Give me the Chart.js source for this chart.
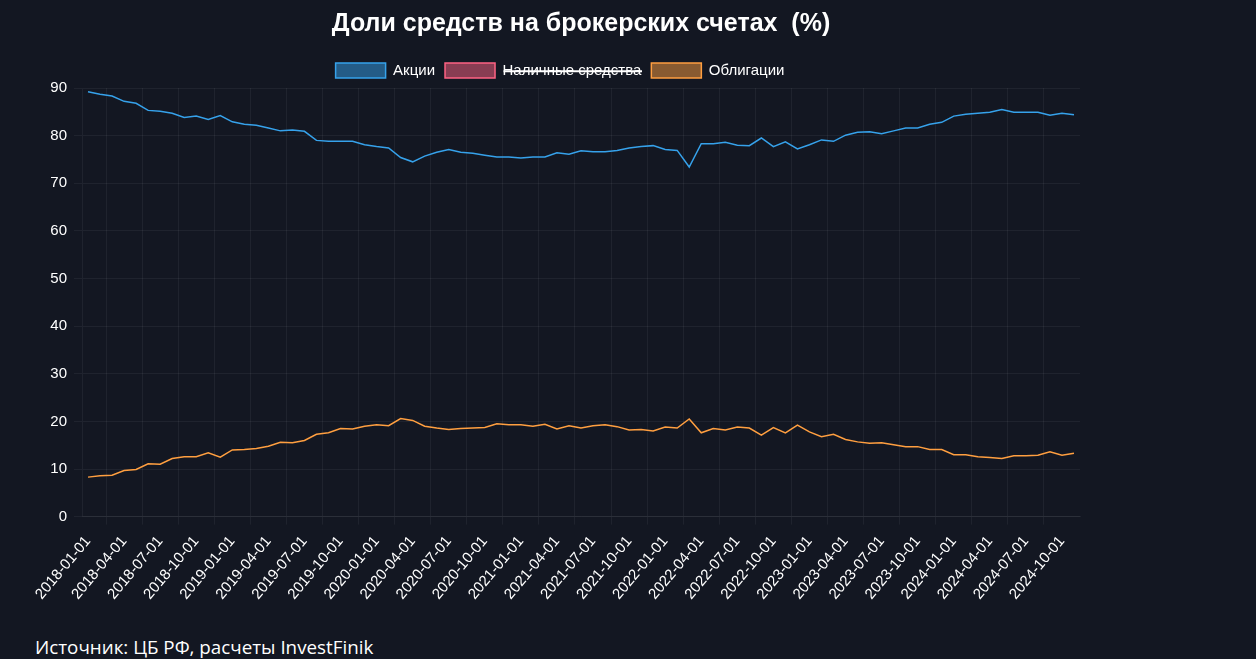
<!DOCTYPE html>
<html>
<head>
<meta charset="utf-8">
<script src="https://cdn.jsdelivr.net/npm/chart.js@4.4.1/dist/chart.umd.min.js"></script>
<style>
  html, body { margin: 0; padding: 0; background: #131722; width: 1256px; height: 659px; overflow: hidden; }
  #wrap { position: absolute; left: 0; top: 0; width: 1120px; height: 611px; }
  #footer { position: absolute; left: 35px; top: 634px; color: #ffffff; font-family: "Open Sans", "Noto Sans", sans-serif; font-size: 18.8px; white-space: nowrap; }
</style>
</head>
<body>
<div id="wrap"><canvas id="c"></canvas></div>
<div id="footer">Источник: ЦБ РФ, расчеты InvestFinik</div>
<script>
const categories = [
  "2018-01-01","2018-02-01","2018-03-01","2018-04-01","2018-05-01","2018-06-01","2018-07-01","2018-08-01","2018-09-01","2018-10-01","2018-11-01","2018-12-01",
  "2019-01-01","2019-02-01","2019-03-01","2019-04-01","2019-05-01","2019-06-01","2019-07-01","2019-08-01","2019-09-01","2019-10-01","2019-11-01","2019-12-01",
  "2020-01-01","2020-02-01","2020-03-01","2020-04-01","2020-05-01","2020-06-01","2020-07-01","2020-08-01","2020-09-01","2020-10-01","2020-11-01","2020-12-01",
  "2021-01-01","2021-02-01","2021-03-01","2021-04-01","2021-05-01","2021-06-01","2021-07-01","2021-08-01","2021-09-01","2021-10-01","2021-11-01","2021-12-01",
  "2022-01-01","2022-02-01","2022-03-01","2022-04-01","2022-05-01","2022-06-01","2022-07-01","2022-08-01","2022-09-01","2022-10-01","2022-11-01","2022-12-01",
  "2023-01-01","2023-02-01","2023-03-01","2023-04-01","2023-05-01","2023-06-01","2023-07-01","2023-08-01","2023-09-01","2023-10-01","2023-11-01","2023-12-01",
  "2024-01-01","2024-02-01","2024-03-01","2024-04-01","2024-05-01","2024-06-01","2024-07-01","2024-08-01","2024-09-01","2024-10-01","2024-11-01"
];

const stocks = [
  89.2,88.7,88.3,87.2,86.8,85.3,85.1,84.7,83.8,84.1,83.4,84.2,
  82.9,82.4,82.2,81.6,81.0,81.2,80.9,79.0,78.8,78.8,78.8,78.1,
  77.7,77.4,75.4,74.5,75.7,76.5,77.1,76.5,76.3,75.9,75.5,75.5,
  75.3,75.5,75.5,76.4,76.1,76.8,76.6,76.6,76.9,77.4,77.7,77.9,
  77.1,76.9,73.4,78.3,78.3,78.6,78.0,77.9,79.5,77.7,78.7,77.2,
  78.1,79.1,78.8,80.1,80.7,80.8,80.4,81.0,81.6,81.6,82.4,82.8,
  84.1,84.5,84.7,84.9,85.5,84.9,84.9,84.9,84.3,84.7,84.4
];

const cash = [
  2.5,2.7,3.0,3.1,3.3,3.6,3.9,3.1,3.6,3.3,3.2,3.3,
  3.1,3.5,3.5,3.6,3.4,3.3,3.1,3.7,3.6,2.7,2.8,2.9,
  3.0,3.5,4.0,5.3,5.3,4.9,4.6,5.0,5.1,5.4,5.0,5.2,
  5.4,5.5,5.1,5.2,4.8,4.6,4.3,4.1,4.2,4.4,4.0,4.1,
  4.1,4.5,6.1,4.1,3.2,3.2,3.2,3.5,3.4,3.6,3.7,3.6,
  4.1,4.1,3.9,3.7,3.6,3.8,4.1,3.9,3.7,3.7,3.5,3.1,
  2.9,2.5,2.7,2.7,2.3,2.3,2.3,2.2,2.1,2.4,2.3
];

const bonds = [
  8.3,8.6,8.7,9.7,9.9,11.1,11.0,12.2,12.6,12.6,13.4,12.5,
  14.0,14.1,14.3,14.8,15.6,15.5,16.0,17.3,17.6,18.5,18.4,19.0,
  19.3,19.1,20.6,20.2,19.0,18.6,18.3,18.5,18.6,18.7,19.5,19.3,
  19.3,19.0,19.4,18.4,19.1,18.6,19.1,19.3,18.9,18.2,18.3,18.0,
  18.8,18.6,20.5,17.6,18.5,18.2,18.8,18.6,17.1,18.7,17.6,19.2,
  17.8,16.8,17.3,16.2,15.7,15.4,15.5,15.1,14.7,14.7,14.1,14.1,
  13.0,13.0,12.6,12.4,12.2,12.8,12.8,12.9,13.6,12.9,13.3
];

const seriesNames = ["Акции", "Наличные средства", "Облигации"];
const yTicks = [0, 10, 20, 30, 40, 50, 60, 70, 80, 90];
const titleText = "Доли средств на брокерских счетах  (%)";

const gridCol = "rgba(255,255,255,0.055)";
const fontFam = "Arial, 'Liberation Sans', sans-serif";

new Chart(document.getElementById("c"), {
  type: "line",
  data: {
    labels: categories,
    datasets: [
      { label: seriesNames[0], data: stocks, borderColor: "#36a2eb", backgroundColor: "rgba(54,162,235,0.5)", borderWidth: 1.5, pointRadius: 0, tension: 0 },
      { label: seriesNames[1], data: cash, borderColor: "#ff6384", backgroundColor: "rgba(255,99,132,0.5)", borderWidth: 1.5, pointRadius: 0, hidden: true },
      { label: seriesNames[2], data: bonds, borderColor: "#ff9f40", backgroundColor: "rgba(255,159,64,0.5)", borderWidth: 1.5, pointRadius: 0, tension: 0 }
    ]
  },
  options: {
    responsive: true,
    maintainAspectRatio: false,
    animation: false,
    layout: { padding: { left: 40, right: 40, top: 1, bottom: 0 } },
    plugins: {
      title: {
        display: true, text: titleText, color: "#ffffff", fullSize: false,
        font: { family: fontFam, size: 25, weight: "bold" },
        padding: { top: 8, bottom: 14 }
      },
      legend: {
        display: true,
        labels: { color: "#ffffff", boxWidth: 50, boxHeight: 15, font: { family: fontFam, size: 15 } }
      },
      tooltip: { enabled: false }
    },
    scales: {
      x: {
        type: "category",
        offset: true,
        grid: {
          offset: true,
          color: (ctx) => (ctx.index % 3 === 2 ? gridCol : "rgba(0,0,0,0)"),
          tickLength: 8
        },
        border: { color: gridCol },
        ticks: {
          autoSkip: false,
          minRotation: 50, maxRotation: 50,
          padding: 8,
          color: "#ffffff",
          font: { family: fontFam, size: 15 },
          callback: function (v, i) { return i % 3 === 0 ? categories[i] : ""; }
        }
      },
      y: {
        min: 0, max: 90,
        afterBuildTicks: (axis) => { axis.ticks = yTicks.map(v => ({ value: v })); },
        afterFit: (axis) => { axis.width = 42; },
        grid: { color: gridCol, tickLength: 8 },
        border: { color: gridCol },
        ticks: {
          padding: 7,
          color: "#ffffff",
          font: { family: fontFam, size: 15 }
        }
      }
    }
  }
});
</script>
</body>
</html>
